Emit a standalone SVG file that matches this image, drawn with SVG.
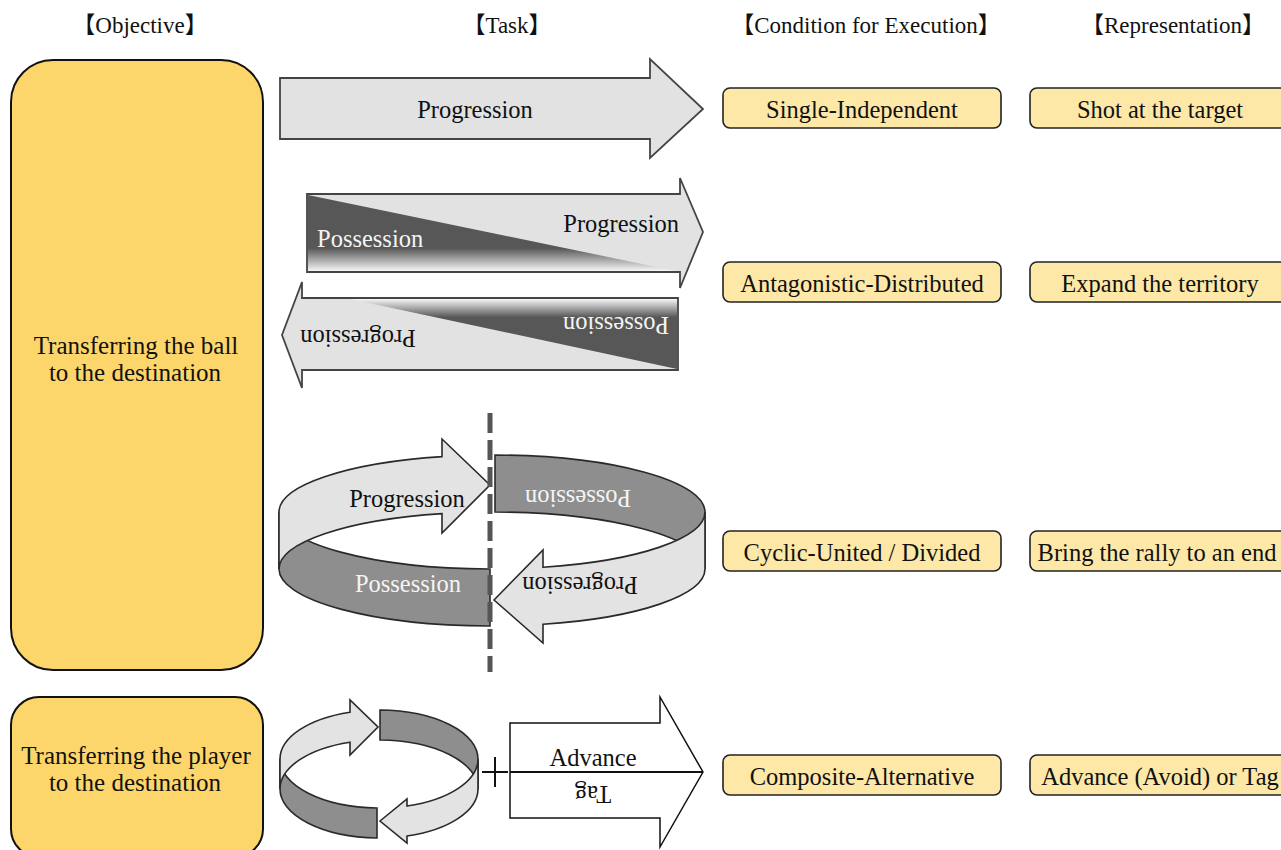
<svg xmlns="http://www.w3.org/2000/svg" width="1281" height="850" viewBox="0 0 1281 850">
<style>
  text { font-family: "Liberation Serif", "Noto Sans CJK JP", serif; fill: #111; }
  .hdr { font-size: 23px; text-anchor: middle; }
  .obj { fill: #FDD66B; stroke: #111; stroke-width: 2; }
  .box { fill: #FDE8A8; stroke: #222; stroke-width: 1.6; }
  .bt { font-size: 24.5px; text-anchor: middle; }
  .ot { font-size: 25px; text-anchor: middle; }
  .at { font-size: 24.5px; }
  .light { fill: #E2E2E2; stroke: #444; stroke-width: 1.8; stroke-linejoin: miter; }
  .cl { fill: #E3E3E3; stroke: #2a2a2a; stroke-width: 1.6; }
  .cd { fill: #8E8E8E; stroke: #2a2a2a; stroke-width: 1.6; }
  .wt { fill: #F4F4F4; }
  .mid { text-anchor: middle; }
</style>
<defs>
  <linearGradient id="fadeDown" x1="0" y1="0" x2="0" y2="1">
    <stop offset="0" stop-color="#575757"/>
    <stop offset="0.7" stop-color="#575757"/>
    <stop offset="1" stop-color="#F6F6F6"/>
  </linearGradient>
  <linearGradient id="fadeUp" x1="0" y1="1" x2="0" y2="0">
    <stop offset="0" stop-color="#575757"/>
    <stop offset="0.74" stop-color="#575757"/>
    <stop offset="1" stop-color="#F6F6F6"/>
  </linearGradient>
</defs>

<g id="headers">
  <text class="hdr" x="140" y="33">【Objective】</text>
  <text class="hdr" x="507" y="33">【Task】</text>
  <text class="hdr" x="866" y="33">【Condition for Execution】</text>
  <text class="hdr" x="1173" y="33">【Representation】</text>
</g>

<g id="objective-ball">
  <rect class="obj" x="11" y="60" width="252" height="610" rx="42"/>
  <text class="ot" x="136" y="354">Transferring the ball</text>
  <text class="ot" x="135" y="381">to the destination</text>
</g>

<g id="objective-player">
  <rect class="obj" x="11" y="697" width="252" height="160" rx="28"/>
  <text class="ot" x="136" y="764">Transferring the player</text>
  <text class="ot" x="135" y="791">to the destination</text>
</g>

<g id="task-progression">
  <polygon class="light" points="280,78 650,78 650,59 703,109 650,158 650,139 280,139"/>
  <text class="at mid" x="475" y="118">Progression</text>
</g>

<g id="task-antagonistic-top">
  <polygon class="light" points="307,194 680,194 680,178 703,232 680,288 680,272 307,272"/>
  <polygon points="308,195 676,271 308,271" fill="url(#fadeDown)"/>
  <text class="at wt" x="317" y="247">Possession</text>
  <text class="at" x="679" y="232" text-anchor="end">Progression</text>
</g>

<g id="task-antagonistic-bottom">
  <polygon class="light" points="678,298 302,298 302,282 282,335 302,388 302,370 678,370"/>
  <polygon points="350,299 677,299 677,369" fill="url(#fadeUp)"/>
  <text class="at wt mid" x="616" y="317" transform="rotate(180 616 317)">Possession</text>
  <text class="at mid" x="358" y="330" transform="rotate(180 358 330)">Progression</text>
</g>

<g id="task-cyclic">
  <path class="cd" d="M279,512 A213,57 0 0 0 490,569 L490,626 A213,57 0 0 1 279,569 Z"/>
  <path class="cl" d="M279,512 A213,57 0 0 1 442,456.6 L442,439 L490,485 L442,533 L442,513.6 A213,57 0 0 0 279,569 Z"/>
  <path class="cd" d="M495,455 A213,57 0 0 1 705,512 L705,569 A213,57 0 0 0 495,512 Z"/>
  <path class="cl" d="M494,600 L543,550 L543,567.3 A213,57 0 0 0 705,512 L705,569 A213,57 0 0 1 543,624.3 L543,643 Z"/>
  <text class="at mid" x="407" y="507">Progression</text>
  <text class="at wt mid" x="408" y="592">Possession</text>
  <text class="at wt mid" x="578" y="490" transform="rotate(180 578 490)">Possession</text>
  <text class="at mid" x="580" y="577" transform="rotate(180 580 577)">Progression</text>
  <line x1="490" y1="413" x2="490" y2="672" stroke="#555" stroke-width="5" stroke-dasharray="20 7"/>
</g>

<g id="task-composite">
  <path class="cd" d="M280,759 A99,49 0 0 0 377,808 L377,838 A99,49 0 0 1 280,789 Z"/>
  <path class="cl" d="M280,759 A99,49 0 0 1 350,712.2 L350,700 L378,727 L350,755 L350,742.2 A99,49 0 0 0 280,789 Z"/>
  <path class="cd" d="M380,710 A99,49 0 0 1 478,759 L478,789 A99,49 0 0 0 380,740 Z"/>
  <path class="cl" d="M380,821 L407,799 L407,806 A99,49 0 0 0 478,759 L478,789 A99,49 0 0 1 407,836 L407,843 Z"/>
  <g stroke="#111" stroke-width="2">
    <line x1="482" y1="772" x2="508" y2="772"/>
    <line x1="495" y1="757" x2="495" y2="787"/>
  </g>
  <polygon points="510,723 660,723 660,697 703,772 660,847 660,818 510,818" fill="#fff" stroke="#111" stroke-width="1.5"/>
  <line x1="510" y1="772" x2="703" y2="772" stroke="#111" stroke-width="2"/>
  <text class="at mid" x="593" y="766">Advance</text>
  <text class="at mid" x="593" y="786" transform="rotate(180 593 786)">Tag</text>
</g>

<g id="cond-single">
  <rect class="box" x="723" y="88" width="278" height="40" rx="7"/>
  <text class="bt" x="862" y="118">Single-Independent</text>
</g>
<g id="cond-antagonistic">
  <rect class="box" x="723" y="262" width="278" height="40" rx="7"/>
  <text class="bt" x="862" y="292">Antagonistic-Distributed</text>
</g>
<g id="cond-cyclic">
  <rect class="box" x="723" y="531" width="278" height="40" rx="7"/>
  <text class="bt" x="862" y="561">Cyclic-United / Divided</text>
</g>
<g id="cond-composite">
  <rect class="box" x="723" y="755" width="278" height="40" rx="7"/>
  <text class="bt" x="862" y="785">Composite-Alternative</text>
</g>

<g id="rep-shot">
  <rect class="box" x="1030" y="88" width="280" height="40" rx="7"/>
  <text class="bt" x="1160" y="118">Shot at the target</text>
</g>
<g id="rep-expand">
  <rect class="box" x="1030" y="262" width="280" height="40" rx="7"/>
  <text class="bt" x="1160" y="292">Expand the territory</text>
</g>
<g id="rep-rally">
  <rect class="box" x="1030" y="531" width="280" height="40" rx="7"/>
  <text class="bt" x="1157" y="561">Bring the rally to an end</text>
</g>
<g id="rep-advance">
  <rect class="box" x="1030" y="755" width="280" height="40" rx="7"/>
  <text class="bt" x="1160" y="785">Advance (Avoid) or Tag</text>
</g>
</svg>
